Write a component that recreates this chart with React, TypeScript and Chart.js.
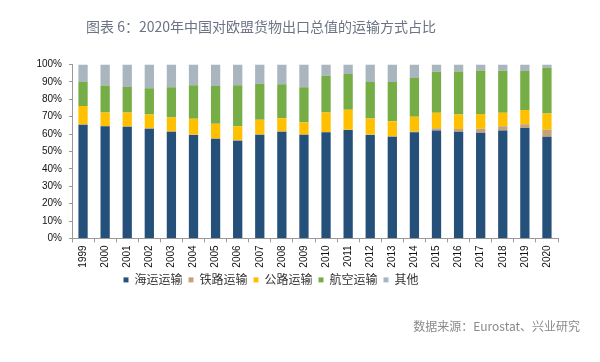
import React, { useEffect, useRef } from "react";
import { Chart, registerables } from "chart.js";

Chart.register(...registerables);

const years = ["1999","2000","2001","2002","2003","2004","2005","2006","2007","2008","2009","2010","2011","2012","2013","2014","2015","2016","2017","2018","2019","2020"];
const seaShare = [65.3,64.5,64.2,63.1,61.4,59.5,57.3,56.2,59.6,61.4,59.6,61.0,62.3,59.5,58.5,61.0,62.1,61.4,60.8,62.0,63.5,58.5];
const railShare = [0.2,0.2,0.2,0.2,0.2,0.2,0.2,0.2,0.2,0.2,0.2,0.2,0.2,0.2,0.2,0.5,1.2,1.5,2.3,2.5,2.1,4.0];
const roadShare = [10.6,7.7,8.0,8.0,7.9,9.1,8.4,8.1,8.5,7.5,7.0,11.2,11.5,9.2,8.7,8.5,8.9,8.4,8.4,7.7,8.2,9.3];
const airShare = [13.9,15.5,14.6,15.1,17.4,19.3,21.8,23.6,20.6,19.6,20.1,21.1,20.5,21.1,22.6,22.3,23.6,24.7,25.1,24.2,22.4,26.3];
const otherShare = [10.0,12.1,13.0,13.6,13.1,11.9,12.3,11.9,11.1,11.3,13.1,6.5,5.5,10.0,10.0,7.7,4.2,4.0,3.4,3.6,3.8,1.9];
const seriesNames = ["海运运输","铁路运输","公路运输","航空运输","其他"];
const titleText = "图表 6：2020年中国对欧盟货物出口总值的运输方式占比";
const sourceText = "数据来源：Eurostat、兴业研究";

const colors = ["#25507a", "#c4a27a", "#ffc000", "#76ad46", "#a9b5bf"];

const textPlugin = {
  id: "extraText",
  afterLayout(chart: any) {
    if (chart.legend) {
      chart.legend.left -= 15;
      chart.legend.right -= 15;
    }
  },
  afterDraw(chart: any) {
    const ctx = chart.ctx;
    ctx.save();
    ctx.fillStyle = "#6b7384";
    ctx.font = "14px 'Noto Sans CJK SC'";
    ctx.textAlign = "center";
    ctx.textBaseline = "middle";
    ctx.fillText(titleText, 261, 27);
    ctx.fillStyle = "#8a8a8a";
    ctx.font = "12px 'Noto Sans CJK SC'";
    ctx.textAlign = "right";
    ctx.fillText(sourceText, 580, 326);
    ctx.restore();
  },
};

export default function App() {
  const ref = useRef<HTMLCanvasElement>(null);
  useEffect(() => {
    if (!ref.current) return;
    const data = [seaShare, railShare, roadShare, airShare, otherShare];
    const chart = new Chart(ref.current, {
      type: "bar",
      data: {
        labels: years,
        datasets: seriesNames.map((n, i) => ({
          label: n,
          data: data[i],
          backgroundColor: colors[i],
          borderWidth: 0,
          barPercentage: 0.42,
          categoryPercentage: 1,
        })),
      },
      options: {
        animation: false,
        responsive: false,
        layout: { padding: { top: 64.5, left: 14, right: 42, bottom: 66.1 } },
        plugins: {
          title: { display: false },
          tooltip: { enabled: false },
          legend: {
            position: "bottom",
            labels: {
              boxWidth: 5,
              boxHeight: 5,
              padding: 6,
              color: "#333",
              font: { family: "'Noto Sans CJK SC'", size: 12 },
            },
          },
        },
        scales: {
          x: {
            stacked: true,
            grid: { offset: true, drawOnChartArea: false, tickLength: 4, color: "#999" },
            border: { color: "#999" },
            ticks: {
              maxRotation: 90,
              minRotation: 90,
              color: "#111",
              padding: 3,
              font: { family: "'Liberation Sans'", size: 10 },
            },
            afterFit: (s: any) => { s.height = 29.5; },
          },
          y: {
            stacked: true,
            min: 0,
            max: 100,
            grid: { drawOnChartArea: false, tickLength: 3, color: "#999" },
            border: { color: "#999" },
            ticks: {
              stepSize: 10,
              color: "#111",
              padding: 7,
              font: { family: "'Liberation Sans'", size: 10 },
              callback: (v: any) => v + "%",
            },
            afterFit: (s: any) => { s.width = 58; },
          },
        },
      },
      plugins: [textPlugin],
    });
    return () => chart.destroy();
  }, []);
  return (
    <div style={{ position: "fixed", left: 0, top: 0, width: 600, height: 362, background: "#fff" }}>
      <canvas ref={ref} width={600} height={362} />
    </div>
  );
}
